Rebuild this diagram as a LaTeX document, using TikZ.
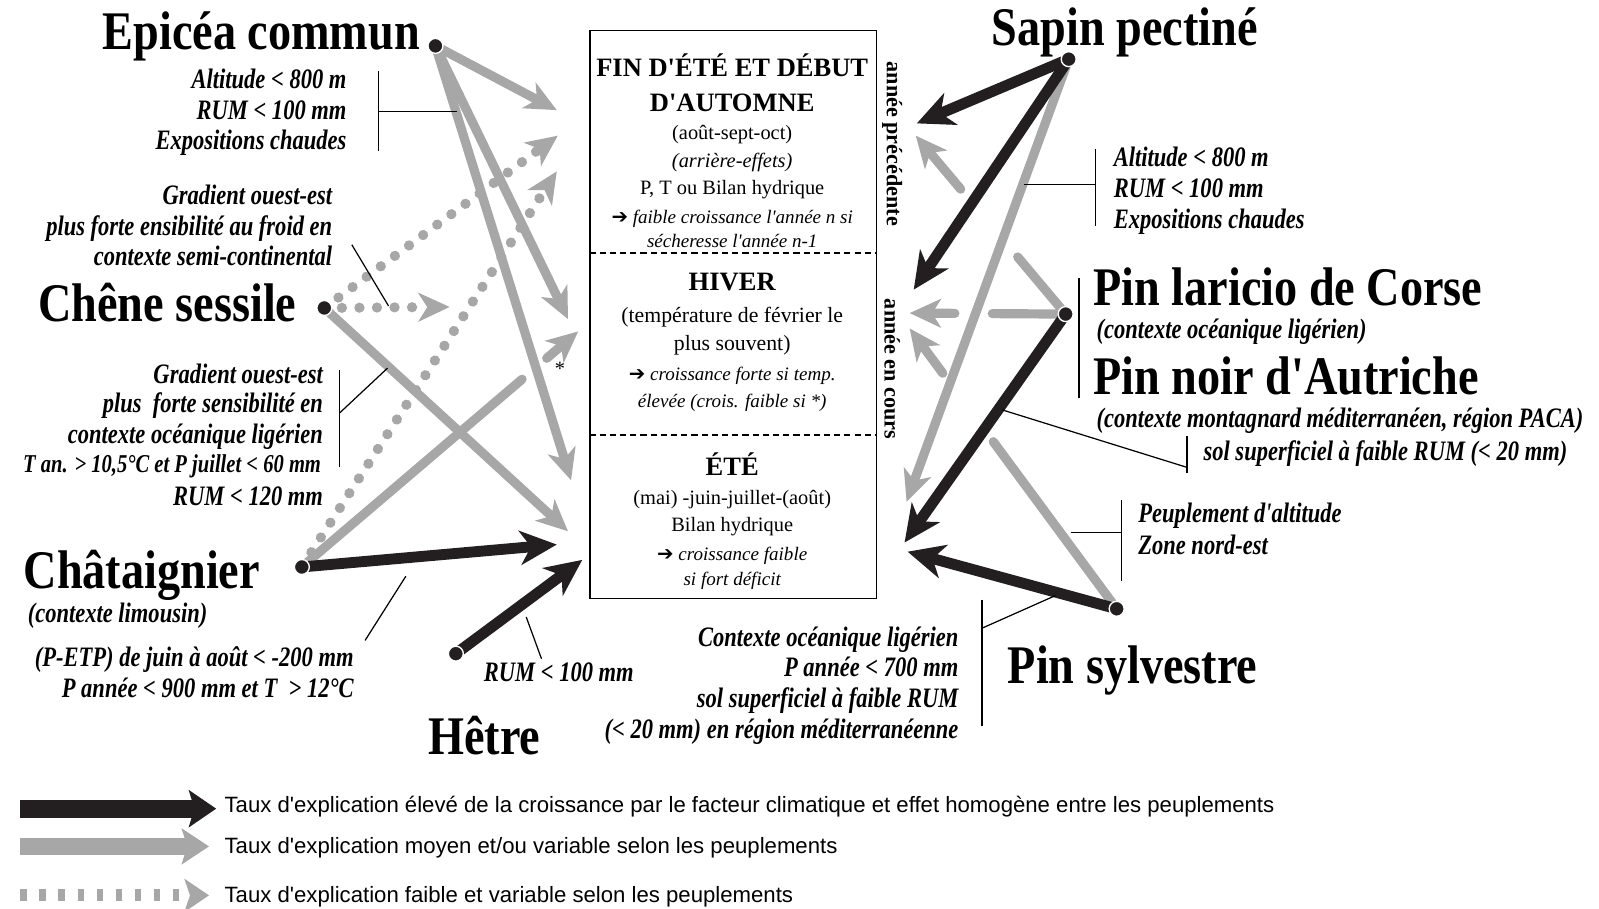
\documentclass[tikz,border=0pt]{standalone}
\usepackage{fontspec}
\setmainfont{Liberation Serif}
\newfontfamily\rmf{Liberation Serif}
\newfontfamily\condf[FakeStretch=0.85]{Liberation Serif}
\newfontfamily\anf[FakeStretch=0.8]{Liberation Serif}
\newfontfamily\legf{Liberation Sans}
\newfontfamily\djv{DejaVu Sans}
\usetikzlibrary{arrows.meta,calc}
\definecolor{gar}{HTML}{A7A7A7}
\definecolor{bar}{HTML}{231F20}
\newcommand{\fl}{{\djv\fontsize{14.5}{16}\selectfont ➔}\ }
\begin{document}
\begin{tikzpicture}[x=0.75pt,y=-0.75pt,
  titre/.style={font=\condf\bfseries\fontsize{40}{44}\selectfont, inner sep=0pt, yshift=-1.5pt},
  annot/.style={font=\anf\bfseries\itshape\fontsize{20.7}{24}\selectfont, inner sep=0pt, yshift=-3.5pt},
  boxreg/.style={font=\rmf\fontsize{15}{18}\selectfont, inner sep=0pt, yshift=-3pt},
  boxregb/.style={font=\rmf\fontsize{16}{19}\selectfont, inner sep=0pt, yshift=-3pt},
  boxit/.style={font=\rmf\itshape\fontsize{14}{17}\selectfont, inner sep=0pt, yshift=-3pt},
  boxhd/.style={font=\rmf\bfseries\fontsize{19.5}{22}\selectfont, inner sep=0pt},
  side/.style={font=\rmf\bfseries\fontsize{16.3}{18}\selectfont, inner sep=0pt, rotate=-90},
  legt/.style={font=\legf\fontsize{16.3}{19}\selectfont, inner sep=0pt, yshift=-3pt},
  thin/.style={line width=0.9pt, draw=black},
  grayarr/.style={line width=6.75pt, draw=gar, line cap=round, -{Stealth[length=23pt,width=21pt,inset=6.5pt]}},
  grayline/.style={line width=6.75pt, draw=gar, line cap=round},
  blackarr/.style={line width=8pt, draw=bar, -{Stealth[length=27pt,width=25pt,inset=8pt]}},
  dotarr/.style={line width=7.5pt, draw=gar, line cap=round, dash pattern=on 0.1pt off 12.8pt, -{Stealth[length=23pt,width=21pt,inset=6.5pt]}},
  spot/.style={circle, fill=bar, draw=white, line width=1pt, minimum size=11pt, inner sep=0pt},
  sepline/.style={line width=1.5pt, dash pattern=on 4.5pt off 3pt},
]
\useasboundingbox (0,0) rectangle (1568,891);

% ---------- central box ----------
\node[draw=black, line width=1pt, minimum width=210.75pt, minimum height=417.75pt, inner sep=0pt, anchor=north west] (box) at (578,29) {};
\coordinate (s1l) at (578,248); \coordinate (s1r) at (859,248);
\coordinate (s2l) at (578,427); \coordinate (s2r) at (859,427);
\draw[sepline] (s1l) -- (s1r);
\draw[sepline] (s2l) -- (s2r);

\node[boxhd, anchor=base] (t1) at (718,75) {FIN D'ÉTÉ ET DÉBUT};
\node[boxhd, anchor=base] (t2) at (718,109) {D'AUTOMNE};
\node[boxreg, anchor=mid] (t3) at (718,130) {(août-sept-oct)};
\node[boxreg, anchor=mid, font=\rmf\itshape\fontsize{15}{18}\selectfont] (t4) at (718,157) {(arrière-effets)};
\node[boxreg, anchor=mid] (t5) at (718,184) {P, T ou Bilan hydrique};
\node[boxit, anchor=mid] (t6) at (718,212) {\fl faible croissance l'année n si};
\node[boxit, anchor=mid] (t7) at (718,236) {sécheresse l'année n-1};

\node[boxhd, anchor=base] (h1) at (718,285) {HIVER};
\node[boxregb, anchor=mid] (h2) at (718,309) {(température de février le};
\node[boxregb, anchor=mid] (h3) at (718,337) {plus souvent)};
\node[boxit, anchor=mid] (h4) at (718,366) {\fl croissance forte si temp.};
\node[boxit, anchor=mid] (h5) at (718,393) {élevée (crois. faible si *)};

\node[boxhd, anchor=base] (e1t) at (718,466) {ÉTÉ};
\node[boxreg, anchor=mid] (e2t) at (718,488) {(mai) -juin-juillet-(août)};
\node[boxreg, anchor=mid] (e3t) at (718,514) {Bilan hydrique};
\node[boxit, anchor=mid] (e4t) at (718,543) {\fl croissance faible};
\node[boxit, anchor=mid] (e5t) at (718,567) {si fort déficit};

\node[side] (ap) at (875,141) {année précédente};
\node[side] (ac) at (875,362) {année en cours};

% ---------- species points ----------
\coordinate (E) at (427,45);
\coordinate (C) at (318,302);
\coordinate (H) at (296,556);
\coordinate (B) at (447,641);
\coordinate (S) at (1048,58);
\coordinate (L) at (1045,308);
\coordinate (P) at (1095,597);

% tips
\coordinate (e1) at (546,108);
\coordinate (e2) at (557,313);
\coordinate (e3) at (560,471);
\coordinate (c1) at (557,521);
\coordinate (c2) at (547,133);
\coordinate (c3) at (441,301);
\coordinate (h1t) at (546,534);
\coordinate (h2t) at (546,168);
\coordinate (h3t) at (567,325);
\coordinate (b1) at (571,549);
\coordinate (sa1) at (899,121);
\coordinate (sa2) at (896,284);
\coordinate (sa3) at (889,492);
\coordinate (la1) at (898,133);
\coordinate (la2) at (892,307);
\coordinate (la3) at (887,532);
\coordinate (pa1) at (890,541);
\coordinate (pa2) at (892,322);

% ---------- gray / dotted arrows ----------
\draw[dotarr] (C) -- (c2);
\draw[dotarr] (C) -- (c3);
\draw[dotarr] (H) -- (h2t);
\draw[grayline] (H) -- ($(H)!0.797!(h3t)$);
\draw[grayarr] ($(H)!0.886!(h3t)$) -- (h3t);
\draw[grayarr] (C) -- (c1);
\draw[grayarr] (E) -- (e1);
\draw[grayarr] (E) -- (e2);
\draw[grayarr] (E) -- (e3);

\draw[grayarr] (S) -- (sa3);
\draw[grayline] (L) -- ($(L)!0.32!(la1)$);
\draw[grayarr] ($(L)!0.70!(la1)$) -- (la1);
\draw[grayline] (L) -- ($(L)!0.47!(la2)$);
\draw[grayarr] ($(L)!0.71!(la2)$) -- (la2);
\draw[grayline] (P) -- ($(P)!0.596!(pa2)$);
\draw[grayarr] ($(P)!0.84!(pa2)$) -- (pa2);

% ---------- black arrows ----------
\draw[blackarr] (H) -- (h1t);
\draw[blackarr] (B) -- (b1);
\draw[blackarr] (S) -- (sa1);
\draw[blackarr] (S) -- (sa2);
\draw[blackarr] (L) -- (la3);
\draw[blackarr] (P) -- (pa1);

% dots
\foreach \p in {E,C,H,B,S,L,P} \node[spot] (dot\p) at (\p) {};

\node[font=\rmf\fontsize{15}{18}\selectfont, inner sep=0pt] (star) at (549,362) {*};

% ---------- titles ----------
\node[titre, anchor=base east] (nE) at (412,47) {Epicéa commun};
\node[titre, anchor=base east] (nC) at (291,313) {Chêne sessile};
\node[titre, anchor=base west] (nH) at (23,575) {Châtaignier};
\node[titre, anchor=base] (nB) at (475,738) {Hêtre};
\node[titre, anchor=base] (nS) at (1103,43) {Sapin pectiné};
\node[titre, anchor=base west] (nL) at (1072,298) {Pin laricio de Corse};
\node[titre, anchor=base west] (nN) at (1072,385) {Pin noir d'Autriche};
\node[titre, anchor=base west] (nP) at (988,668) {Pin sylvestre};

% ---------- annotations left ----------
\foreach \t [count=\i] in {Altitude < 800 m, RUM < 100 mm, Expositions chaudes}
  \node[annot, anchor=mid east] (ea\i) at (340,{79+30*(\i-1)}) {\t};
\coordinate (ea-b1) at (371,70); \coordinate (ea-b2) at (371,148);
\coordinate (ea-m) at (371,109); \coordinate (ea-e) at (448,109);
\draw[thin] (ea-b1) -- (ea-b2);
\draw[thin] (ea-m) -- (ea-e);

\foreach \t [count=\i] in {Gradient ouest-est, plus forte ensibilité au froid en, contexte semi-continental}
  \node[annot, anchor=mid east] (ca\i) at (326,{193+30*(\i-1)}) {\t};
\coordinate (ca-a) at (345,240); \coordinate (ca-b) at (381,300);
\draw[thin] (ca-a) -- (ca-b);

\node[annot, anchor=mid east] (cb1) at (317,368) {Gradient ouest-est};
\node[annot, anchor=mid east] (cb2) at (317,397) {plus \ forte sensibilité en};
\node[annot, anchor=mid east] (cb3) at (317,427) {contexte océanique ligérien};
\node[annot, anchor=mid east, font=\anf\bfseries\itshape\fontsize{18.9}{21}\selectfont] (cb4) at (315,456) {T an. > 10,5°C et P juillet < 60 mm};
\node[annot, anchor=mid east] (cb5) at (317,488) {RUM < 120 mm};
\coordinate (cb-b1) at (333,363); \coordinate (cb-b2) at (333,458);
\coordinate (cb-m) at (333,405); \coordinate (cb-e) at (380,361);
\draw[thin] (cb-b1) -- (cb-b2);
\draw[thin] (cb-m) -- (cb-e);

\node[annot, anchor=mid west] (hl) at (27,603) {(contexte limousin)};
\node[annot, anchor=mid east] (ha1) at (347,646) {(P-ETP) de juin à août < -200 mm};
\node[annot, anchor=mid east] (ha2) at (347,676) {P année < 900 mm et T \ > 12°C};
\coordinate (ha-a) at (398,565); \coordinate (ha-b) at (358,628);
\draw[thin] (ha-a) -- (ha-b);

\node[annot, anchor=mid] (ba) at (548,661) {RUM < 100 mm};
\coordinate (ba-a) at (516,605); \coordinate (ba-b) at (531,646);
\draw[thin] (ba-a) -- (ba-b);

% ---------- annotations right ----------
\foreach \t [count=\i] in {Altitude < 800 m, RUM < 100 mm, Expositions chaudes}
  \node[annot, anchor=mid west] (sa\i) at (1092,{156+30*(\i-1)}) {\t};
\coordinate (sa-b1) at (1074,146); \coordinate (sa-b2) at (1074,222);
\coordinate (sa-m) at (1074,181); \coordinate (sa-e) at (1004,181);
\draw[thin] (sa-b1) -- (sa-b2);
\draw[thin] (sa-m) -- (sa-e);

\node[annot, anchor=mid west] (la-t1) at (1075,324) {(contexte océanique ligérien)};
\node[annot, anchor=mid west] (la-t2) at (1075,411) {(contexte montagnard méditerranéen, région PACA)};
\node[annot, anchor=mid west] (la-t3) at (1180,444) {sol superficiel à faible RUM (< 20 mm)};
\coordinate (lb-1) at (1058,273); \coordinate (lb-2) at (1058,390);
\draw[thin] (lb-1) -- (lb-2);
\coordinate (ln-1) at (983,402); \coordinate (ln-2) at (1163,458);
\draw[thin] (ln-1) -- (ln-2);
\coordinate (ln-3) at (1164,428); \coordinate (ln-4) at (1164,464);
\draw[thin] (ln-3) -- (ln-4);

\node[annot, anchor=mid west] (pa-t1) at (1116,505) {Peuplement d'altitude};
\node[annot, anchor=mid west] (pa-t2) at (1116,536) {Zone nord-est};
\coordinate (pb-1) at (1100,490); \coordinate (pb-2) at (1100,570);
\coordinate (pb-m) at (1100,522); \coordinate (pb-e) at (1050,522);
\draw[thin] (pb-1) -- (pb-2);
\draw[thin] (pb-m) -- (pb-e);

\foreach \t [count=\i] in {Contexte océanique ligérien, P année < 700 mm, sol superficiel à faible RUM, (< 20 mm) en région méditerranéenne}
  \node[annot, anchor=mid east] (pc\i) at (940,{626+30*(\i-1)}) {\t};
\coordinate (pc-b1) at (963,588); \coordinate (pc-b2) at (963,712);
\coordinate (pc-m) at (963,616); \coordinate (pc-e) at (1035,584);
\draw[thin] (pc-b1) -- (pc-b2);
\draw[thin] (pc-m) -- (pc-e);

% ---------- legend ----------
\coordinate (lg1a) at (20,793); \coordinate (lg1b) at (212,793);
\coordinate (lg2a) at (20,830); \coordinate (lg2b) at (205,830);
\coordinate (lg3a) at (20,878); \coordinate (lg3b) at (205,878);
\draw[line width=13.5pt, draw=bar, -{Stealth[length=20pt,width=27pt,inset=4pt]}] (lg1a) -- (lg1b);
\draw[line width=12pt, draw=gar, -{Stealth[length=20pt,width=26pt,inset=4pt]}] (lg2a) -- (lg2b);
\draw[line width=9pt, draw=gar, dash pattern=on 5pt off 9pt, -{Stealth[length=18pt,width=24pt,inset=4pt]}] (lg3a) -- (lg3b);
\node[legt, anchor=mid west] (lt1) at (220,790) {Taux d'explication élevé de la croissance par le facteur climatique et effet homogène entre les peuplements};
\node[legt, anchor=mid west] (lt2) at (220,830) {Taux d'explication moyen et/ou variable selon les peuplements};
\node[legt, anchor=mid west] (lt3) at (220,878) {Taux d'explication faible et variable selon les peuplements};
\end{tikzpicture}
\end{document}
